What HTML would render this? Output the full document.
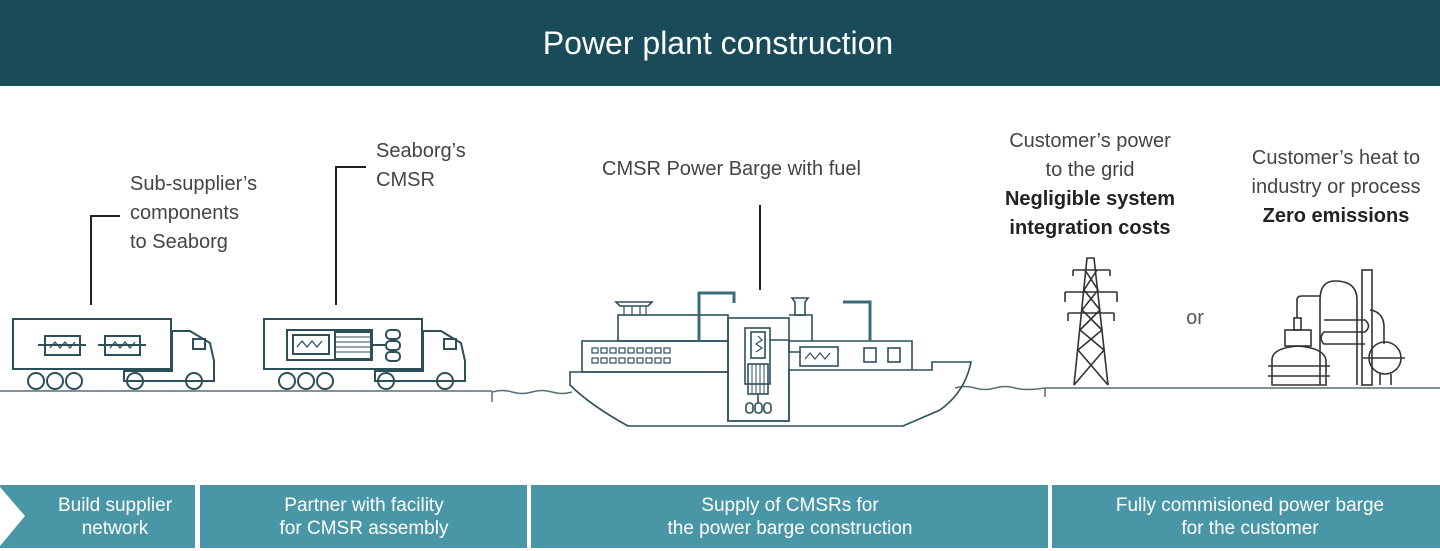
<!DOCTYPE html>
<html><head><meta charset="utf-8"><style>
html,body{margin:0;padding:0;background:#fff;}
body{width:1440px;height:551px;overflow:hidden;position:relative;font-family:"Liberation Sans",sans-serif;}
</style></head><body>
<svg width="1440" height="551" viewBox="0 0 1440 551" xmlns="http://www.w3.org/2000/svg" style="position:absolute;left:0;top:0">
<rect x="0" y="0" width="1440" height="86" fill="#1a4b58"/>
<text x="718" y="54" text-anchor="middle" font-size="32" fill="#fff" font-family="Liberation Sans, sans-serif">Power plant construction</text>

<g font-family="Liberation Sans, sans-serif" font-size="20" fill="#444">
<text x="130" y="190">Sub-supplier’s</text>
<text x="130" y="219">components</text>
<text x="130" y="248">to Seaborg</text>
<text x="376" y="157">Seaborg’s</text>
<text x="376" y="186">CMSR</text>
<text x="602" y="175">CMSR Power Barge with fuel</text>
<text x="1090" y="147" text-anchor="middle">Customer’s power</text>
<text x="1090" y="176" text-anchor="middle">to the grid</text>
<text x="1090" y="205" text-anchor="middle" font-weight="bold" fill="#222">Negligible system</text>
<text x="1090" y="234" text-anchor="middle" font-weight="bold" fill="#222">integration costs</text>
<text x="1336" y="164" text-anchor="middle">Customer’s heat to</text>
<text x="1336" y="193" text-anchor="middle">industry or process</text>
<text x="1336" y="222" text-anchor="middle" font-weight="bold" fill="#222">Zero emissions</text>
<text x="1195" y="324" text-anchor="middle" fill="#555">or</text>
</g>

<g stroke="#222" stroke-width="2" fill="none">
<polyline points="91,305 91,216 120,216"/>
<polyline points="336,305 336,167 366,167"/>
<line x1="760" y1="205" x2="760" y2="290"/>
</g>

<!-- ground -->
<g stroke="#5a6e74" stroke-width="1.5" fill="none">
<line x1="0" y1="391" x2="492" y2="391"/>
<line x1="492" y1="391" x2="492" y2="402"/>
<path d="M492,392 q10,-3 20,0 t20,0 t20,0 t20,0"/>
<path d="M955,388 q10,-3 20,0 t20,0 t20,0 t30,0"/>
<line x1="1045" y1="388" x2="1440" y2="388"/>
<line x1="1045" y1="388" x2="1045" y2="397"/>
</g>

<!-- trucks -->
<g stroke="#2d4f5a" stroke-width="2" fill="none">
<g>
<rect x="13" y="319" width="158" height="50"/>
<rect x="45" y="336" width="35" height="19"/><line x1="38" y1="345" x2="86" y2="345"/>
<rect x="105" y="336" width="35" height="19"/><line x1="98" y1="345" x2="146" y2="345"/>
<path d="M50,348 l5,-6 l5,6 l5,-6 l5,6 l5,-6" stroke-width="1.3"/>
<path d="M110,348 l5,-6 l5,6 l5,-6 l5,6 l5,-6" stroke-width="1.3"/>
<path d="M172,331 h18 l20,12 l4,18 v20 h-90 v-10 h48 z"/>
<rect x="193" y="339" width="12" height="10"/>
<circle cx="36" cy="381" r="8"/><circle cx="55" cy="381" r="8"/><circle cx="74" cy="381" r="8"/>
<circle cx="135" cy="381" r="8"/><circle cx="194" cy="381" r="8"/>
</g>
<g transform="translate(251,0)">
<rect x="13" y="319" width="158" height="50"/>
<rect x="36" y="330" width="85" height="30"/>
<rect x="42" y="335" width="36" height="19"/>
<path d="M46,347 l5,-6 l5,6 l5,-6 l5,6 l5,-6" stroke-width="1.3"/>
<rect x="84" y="332" width="36" height="27"/>
<g stroke-width="1"><line x1="84" y1="337" x2="120" y2="337"/><line x1="84" y1="342" x2="120" y2="342"/><line x1="84" y1="347" x2="120" y2="347"/><line x1="84" y1="352" x2="120" y2="352"/></g>
<line x1="120" y1="345" x2="134" y2="345"/>
<rect x="135" y="330" width="14" height="9" rx="4"/><rect x="135" y="341" width="14" height="9" rx="4"/><rect x="135" y="352" width="14" height="9" rx="4"/>
<path d="M172,331 h18 l20,12 l4,18 v20 h-90 v-10 h48 z"/>
<rect x="193" y="339" width="12" height="10"/>
<circle cx="36" cy="381" r="8"/><circle cx="55" cy="381" r="8"/><circle cx="74" cy="381" r="8"/>
<circle cx="135" cy="381" r="8"/><circle cx="194" cy="381" r="8"/>
</g>
</g>

<!-- ship -->
<g stroke="#2d4f5a" stroke-width="1.6" fill="none">
<path d="M570,372 H728 V421 H789 V370 H932 V362 H971 Q965,392 940,410 L903,426 H628 Q590,405 570,385 Z"/>
<rect x="582" y="341" width="146" height="31"/>
<path d="M789,341 H912 V370"/>
<rect x="618" y="315" width="110" height="26"/>
<path d="M789,315 H812 V341"/>
<rect x="728" y="318" width="61" height="103"/>
<rect x="745" y="328" width="25" height="56"/>
<rect x="751" y="332" width="14" height="26"/>
<path d="M758,336 l4,4 l-6,4 l6,4 l-6,4" stroke-width="1.2"/>
<rect x="748" y="364" width="20" height="30"/>
<g stroke-width="1"><line x1="752" y1="364" x2="752" y2="394"/><line x1="756" y1="364" x2="756" y2="394"/><line x1="760" y1="364" x2="760" y2="394"/><line x1="764" y1="364" x2="764" y2="394"/></g>
<line x1="758" y1="394" x2="758" y2="403"/>
<rect x="746" y="403" width="7" height="10" rx="3"/><rect x="755" y="403" width="7" height="10" rx="3"/><rect x="764" y="403" width="7" height="10" rx="3"/>
<polyline points="770,340 789,340 789,352 800,352"/>
<rect x="800" y="347" width="38" height="19"/>
<path d="M805,359 l5,-6 l5,6 l5,-6 l5,6 l5,-6" stroke-width="1.2"/>
<rect x="864" y="348" width="12" height="14"/><rect x="888" y="348" width="12" height="14"/>
<path d="M616,302 h36 l-4,4 h-28 z"/>
<g stroke-width="1.2"><line x1="624" y1="306" x2="624" y2="315"/><line x1="632" y1="306" x2="632" y2="315"/><line x1="640" y1="306" x2="640" y2="315"/><line x1="646" y1="306" x2="646" y2="315"/></g>
<path d="M792,298 h16 l-3,4 v13 h-10 v-13 z"/>
<g stroke="#3a6b7c" stroke-width="3">
<polyline points="699,341 699,293 734,293 734,303"/>
<polyline points="843,302 870,302 870,341"/>
</g>
<g fill="none" stroke-width="1.2">
<rect x="592" y="348" width="6" height="5"/><rect x="601" y="348" width="6" height="5"/><rect x="610" y="348" width="6" height="5"/><rect x="619" y="348" width="6" height="5"/><rect x="628" y="348" width="6" height="5"/><rect x="637" y="348" width="6" height="5"/><rect x="646" y="348" width="6" height="5"/><rect x="655" y="348" width="6" height="5"/><rect x="664" y="348" width="6" height="5"/>
<rect x="592" y="358" width="6" height="5"/><rect x="601" y="358" width="6" height="5"/><rect x="610" y="358" width="6" height="5"/><rect x="619" y="358" width="6" height="5"/><rect x="628" y="358" width="6" height="5"/><rect x="637" y="358" width="6" height="5"/><rect x="646" y="358" width="6" height="5"/><rect x="655" y="358" width="6" height="5"/><rect x="664" y="358" width="6" height="5"/>
</g>
</g>

<!-- pylon -->
<g stroke="#333" stroke-width="1.6" fill="none">
<path d="M1074,385 L1087,258 H1094 L1108,385"/>
<path d="M1074,385 L1104,350 L1080,330 L1100,310 L1084,290 L1097,270 M1108,385 L1078,350 L1102,330 L1082,310 L1098,290 L1085,270"/>
<path d="M1073,270 H1110 M1065,292 H1117 M1068,313 H1114"/>
<path d="M1073,270 v6 M1110,270 v6 M1065,292 v10 M1117,292 v10 M1068,313 v8 M1114,313 v8"/>
</g>

<!-- refinery -->
<g stroke="#333" stroke-width="1.6" fill="none">
<path d="M1272,385 V360 Q1272,348 1298,346 Q1324,348 1326,360 V385 Z"/>
<line x1="1268" y1="366" x2="1330" y2="366"/><line x1="1268" y1="376" x2="1330" y2="376"/>
<rect x="1285" y="330" width="26" height="16"/>
<rect x="1294" y="318" width="7" height="12"/>
<path d="M1297,318 V300 Q1297,296 1302,296 H1320"/>
<path d="M1320,385 V300 Q1320,281 1335,281 Q1357,281 1357,300 V385"/>
<rect x="1362" y="270" width="10" height="115"/>
<path d="M1324,320 H1365 Q1372,326 1365,332 H1324 Q1318,338 1324,344 H1365"/>
<path d="M1370,310 Q1385,312 1384,330 V344"/>
<circle cx="1385" cy="358" r="16"/>
<line x1="1363" y1="358" x2="1405" y2="358"/>
<line x1="1380" y1="374" x2="1380" y2="385"/><line x1="1391" y1="374" x2="1391" y2="385"/>
</g>

<!-- bottom bar -->
<g fill="#4997a6">
<rect x="0" y="485" width="195" height="63"/>
<rect x="200" y="485" width="327" height="63"/>
<rect x="531" y="485" width="517" height="63"/>
<rect x="1052" y="485" width="388" height="63"/>
</g>
<polygon points="0,487 0,546 25,516" fill="#fff"/>
<g font-family="Liberation Sans, sans-serif" font-size="19" fill="#fff" text-anchor="middle">
<text x="115" y="511">Build supplier</text><text x="115" y="534">network</text>
<text x="364" y="511">Partner with facility</text><text x="364" y="534">for CMSR assembly</text>
<text x="790" y="511">Supply of CMSRs for</text><text x="790" y="534">the power barge construction</text>
<text x="1250" y="511">Fully commisioned power barge</text><text x="1250" y="534">for the customer</text>
</g>
</svg>
</body></html>
